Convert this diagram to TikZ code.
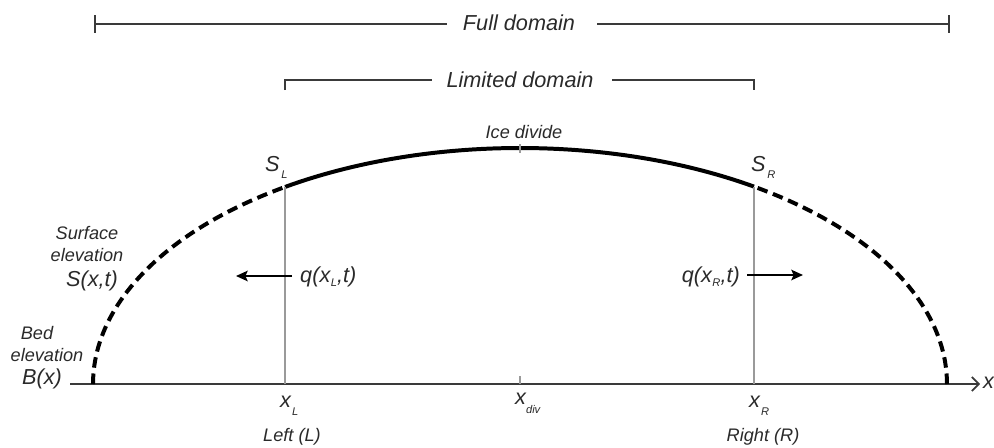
\documentclass[tikz,border=0pt]{standalone}
\usepackage{fontspec}
\setmainfont{Liberation Sans}
\usetikzlibrary{arrows.meta}
\definecolor{txtgray}{HTML}{2A2A2A}
\definecolor{linegray}{HTML}{3A3A3A}
\definecolor{guidegray}{HTML}{9A9A9A}
\newcommand{\dropsub}[3]{\kern#2\raisebox{-#1}{\fontsize{9.5}{9.5}\selectfont\itshape #3}}
\begin{document}
\begin{tikzpicture}[x=0.03cm,y=-0.03cm,
    lbl/.style={font=\fontsize{18.5}{20}\selectfont\itshape,text=txtgray,inner sep=0pt},
    smalllbl/.style={font=\fontsize{15.5}{17}\selectfont\itshape,text=txtgray,inner sep=0pt},
    bar/.style={draw=linegray,line width=1.3pt},
    ice/.style={line width=3.4pt,black},
    icedash/.style={ice,dash pattern=on 9pt off 5pt},
    guide/.style={draw=guidegray,line width=1.2pt},
    flux/.style={line width=1.6pt,black,-{Stealth[length=10pt,width=9pt,inset=2pt]}}]
\useasboundingbox (0,0) rectangle (994,448);
% domain bars
\node[lbl] (full) at (519,23) {Full domain};
\coordinate (fullA) at (95,24);
\coordinate (fullB) at (447,24);
\coordinate (fullC) at (597,24);
\coordinate (fullD) at (949,24);
\draw[bar] (fullA) -- (fullB);
\draw[bar] (fullC) -- (fullD);
\draw[bar] (95,15) -- (95,33);
\draw[bar] (949,15) -- (949,33);
\node[lbl] (limited) at (520,80) {Limited domain};
\coordinate (limA) at (285,90);
\coordinate (limB) at (432,80);
\coordinate (limC) at (612,80);
\coordinate (limD) at (754,90);
\draw[bar] (limA) |- (limB);
\draw[bar] (limC) -| (limD);
% bed
\coordinate (bedL) at (70,384);
\coordinate (bedR) at (980,384);
\draw[line width=1.8pt,linegray,-{Straight Barb[length=6pt,width=12pt,line width=1.4pt]}] (bedL) -- (bedR);
\node[lbl,anchor=west] (xaxis) at (983,383) {x};
% ice surface
\coordinate (SL) at (285,187);
\coordinate (SR) at (754,187);
\coordinate (xL) at (285,384);
\coordinate (xR) at (754,384);
\draw[icedash] plot[domain=180:123.39,samples=50] ({520+427*cos(\x)},{384-236*sin(\x)});
\draw[icedash] plot[domain=0:56.77,samples=50] ({520+427*cos(\x)},{384-236*sin(\x)});
\draw[ice] plot[domain=56.77:123.39,samples=60] ({520+427*cos(\x)},{384-236*sin(\x)});
\draw[guide] (SL) -- (xL);
\draw[guide] (SR) -- (xR);
\draw[guide] (520,144) -- (520,153);
\draw[guide] (520,376) -- (520,384);
\node[smalllbl] (divide) at (524,132) {Ice divide};
\node[lbl,anchor=base west] (sl) at (265,171) {S\dropsub{6pt}{1.5pt}{L}};
\node[lbl,anchor=base west] (sr) at (751,171) {S\dropsub{6pt}{1.5pt}{R}};
% fluxes
\coordinate (qLa) at (292,276);
\coordinate (qLb) at (236,276);
\coordinate (qRa) at (747,275);
\coordinate (qRb) at (803,275);
\draw[flux] (qLa) -- (qLb);
\draw[flux] (qRa) -- (qRb);
\node[lbl,anchor=base west] (ql) at (300,282) {q(x\dropsub{4pt}{0.5pt}{L},t)};
\node[lbl,anchor=base east] (qr) at (740,282) {q(x\dropsub{4pt}{0.5pt}{R},t)};
% left labels
\node[smalllbl] (surf1) at (87,233) {Surface};
\node[smalllbl] (surf2) at (87,255) {elevation};
\node[lbl] (surf3) at (92,281) {S(x,t)};
\node[smalllbl] (bed1) at (37,333) {Bed};
\node[smalllbl] (bed2) at (47,355) {elevation};
\node[lbl] (bed3) at (42,379) {B(x)};
% positions on the bed
\node[lbl,anchor=base west] (lx) at (280,407) {x\dropsub{7pt}{1pt}{L}};
\node[lbl,anchor=base west] (dx) at (515,404) {x\dropsub{8pt}{0pt}{div}};
\node[lbl,anchor=base west] (rx) at (749,407) {x\dropsub{7pt}{1pt}{R}};
\node[smalllbl] (left) at (292,437) {Left (L)};
\node[smalllbl] (right) at (763,437) {Right (R)};
\end{tikzpicture}
\end{document}
